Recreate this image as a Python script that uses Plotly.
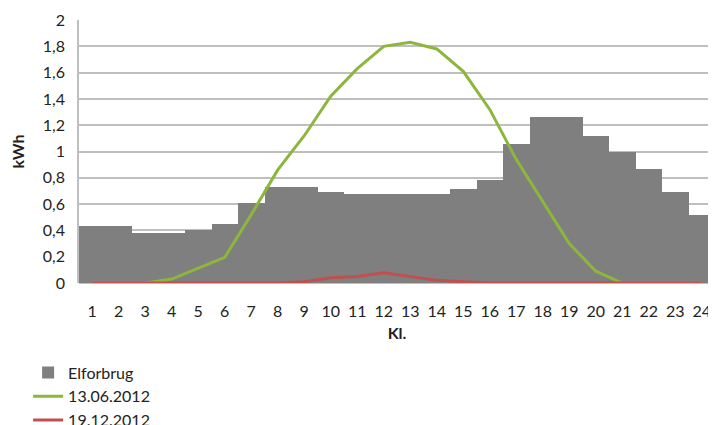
import plotly.graph_objects as go

hours = [str(h) for h in range(1, 25)]
elforbrug = [0.43, 0.43, 0.38, 0.38, 0.40, 0.45, 0.61, 0.73, 0.73, 0.69, 0.68, 0.68,
             0.68, 0.68, 0.715, 0.78, 1.06, 1.265, 1.265, 1.115, 1.0, 0.87, 0.69, 0.52]
juni = [0, 0, 0, 0.03, 0.115, 0.195, 0.52, 0.86, 1.12, 1.42, 1.63, 1.80,
        1.83, 1.78, 1.61, 1.32, 0.94, 0.62, 0.30, 0.09, 0, 0, 0, 0]
december = [0, 0, 0, 0, 0, 0, 0, 0, 0.01, 0.04, 0.05, 0.078,
            0.05, 0.02, 0.01, 0, 0, 0, 0, 0, 0, 0, 0, 0]
y_ticks = [0, 0.2, 0.4, 0.6, 0.8, 1, 1.2, 1.4, 1.6, 1.8, 2]
y_tick_text = ["0", "0,2", "0,4", "0,6", "0,8", "1", "1,2", "1,4", "1,6", "1,8", "2"]

FONT = "Lato, Calibri, sans-serif"

fig = go.Figure()
fig.add_trace(go.Bar(x=hours, y=elforbrug, name="Elforbrug", legendgroup="a",
                     marker=dict(color="#7f7f7f", line=dict(width=0))))
fig.add_trace(go.Scatter(x=hours, y=juni, name="13.06.2012", mode="lines", legendgroup="b",
                         line=dict(color="#8db63c", width=3)))
fig.add_trace(go.Scatter(x=hours, y=december, name="19.12.2012", mode="lines", legendgroup="c",
                         line=dict(color="#c0504d", width=3)))

fig.update_layout(
    width=716, height=425,
    margin=dict(l=71, r=9, t=12, b=150, autoexpand=False),
    paper_bgcolor="white", plot_bgcolor="white",
    bargap=0,
    font=dict(family=FONT, size=16, color="#222"),
    showlegend=True,
    legend=dict(orientation="v", x=-0.080, xanchor="left", y=-0.2757, yanchor="top",
                font=dict(size=16, color="#222"), itemwidth=30, tracegroupgap=4,
                traceorder="normal", bgcolor="rgba(0,0,0,0)"),
    xaxis=dict(type="category", showgrid=False, showline=False, ticks="",
               automargin=False, ticklabelstandoff=17,
               title=dict(text="<b>Kl.</b>", font=dict(size=16), standoff=8),
               tickfont=dict(size=16)),
    yaxis=dict(range=[0, 2], tickvals=y_ticks, ticktext=y_tick_text,
               showgrid=True, gridcolor="#bfbfbf", gridwidth=1.5,
               showline=True, linecolor="#bfbfbf", linewidth=1.5,
               zeroline=True, zerolinecolor="#bfbfbf", zerolinewidth=1.5,
               ticks="", tickfont=dict(size=16), automargin=False, ticklabelstandoff=9,
               title=dict(text="<b>kWh</b>", font=dict(size=16), standoff=18)),
)

fig.write_html("out.html")
